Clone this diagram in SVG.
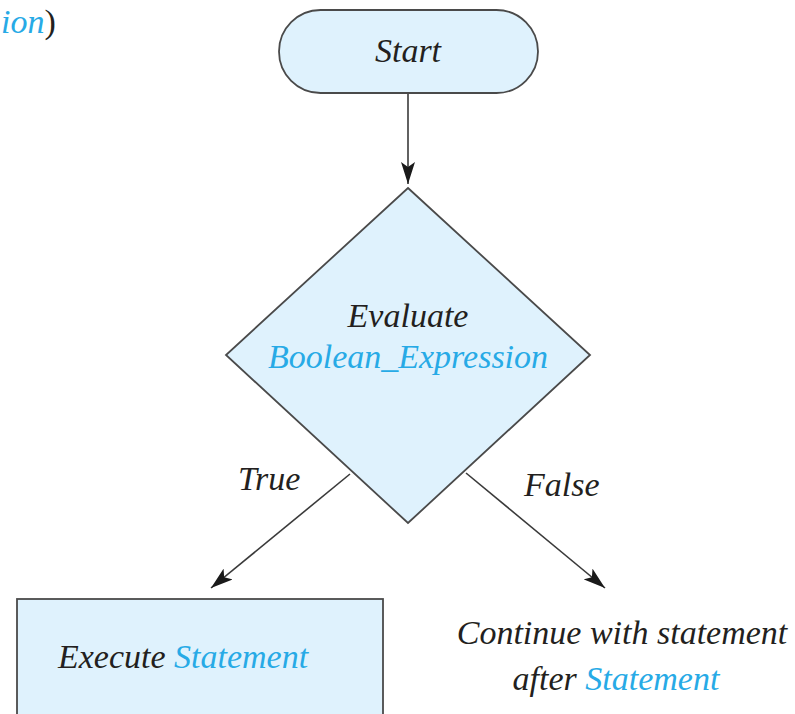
<svg xmlns="http://www.w3.org/2000/svg" width="795" height="714" viewBox="0 0 795 714">
  <style>
    .shape { fill: #dff2fd; stroke: #4a4a4a; stroke-width: 1.8; }
    .txt { font-family: "Liberation Serif", "Times New Roman", serif; font-style: italic; font-size: 34px; fill: #231f20; }
    .kw { fill: #27aae6; }
    .line { stroke: #3a3a3a; stroke-width: 1.6; fill: none; }
  </style>
  <defs>
    <marker id="arrow" viewBox="0 0 22 14" refX="22" refY="7" markerWidth="22" markerHeight="14" markerUnits="userSpaceOnUse" orient="auto">
      <path d="M0,0 L22,7 L0,14 L5,7 Z" fill="#1a1a1a"/>
    </marker>
  </defs>

  <rect width="795" height="714" fill="#ffffff"/>

  <!-- trailing fragment of the preceding syntax line -->
  <text class="txt" x="1" y="33"><tspan class="kw">ion</tspan><tspan font-style="normal">)</tspan></text>

  <g id="connectors">
    <line class="line" x1="408" y1="93" x2="408" y2="184" marker-end="url(#arrow)"/>
    <line class="line" x1="350" y1="474" x2="211" y2="588" marker-end="url(#arrow)"/>
    <line class="line" x1="466" y1="473" x2="605" y2="588" marker-end="url(#arrow)"/>
    <text class="txt" x="238" y="490">True</text>
    <text class="txt" x="524" y="496">False</text>
  </g>

  <g id="start">
    <rect class="shape" x="279" y="10" width="259" height="83" rx="41.5" ry="41.5"/>
    <text class="txt" x="408" y="62" text-anchor="middle">Start</text>
  </g>

  <g id="decision">
    <polygon class="shape" points="408,188 590,355 408,523 226,355"/>
    <text class="txt" x="408" y="327" text-anchor="middle">Evaluate</text>
    <text class="txt kw" x="408" y="368" text-anchor="middle">Boolean_Expression</text>
  </g>

  <g id="execute">
    <rect class="shape" x="17" y="599" width="366" height="130"/>
    <text class="txt" x="58" y="668">Execute <tspan class="kw">Statement</tspan></text>
  </g>

  <g id="continue">
    <text class="txt" x="622" y="644" text-anchor="middle">Continue with statement</text>
    <text class="txt" x="616" y="690" text-anchor="middle">after <tspan class="kw">Statement</tspan></text>
  </g>
</svg>
